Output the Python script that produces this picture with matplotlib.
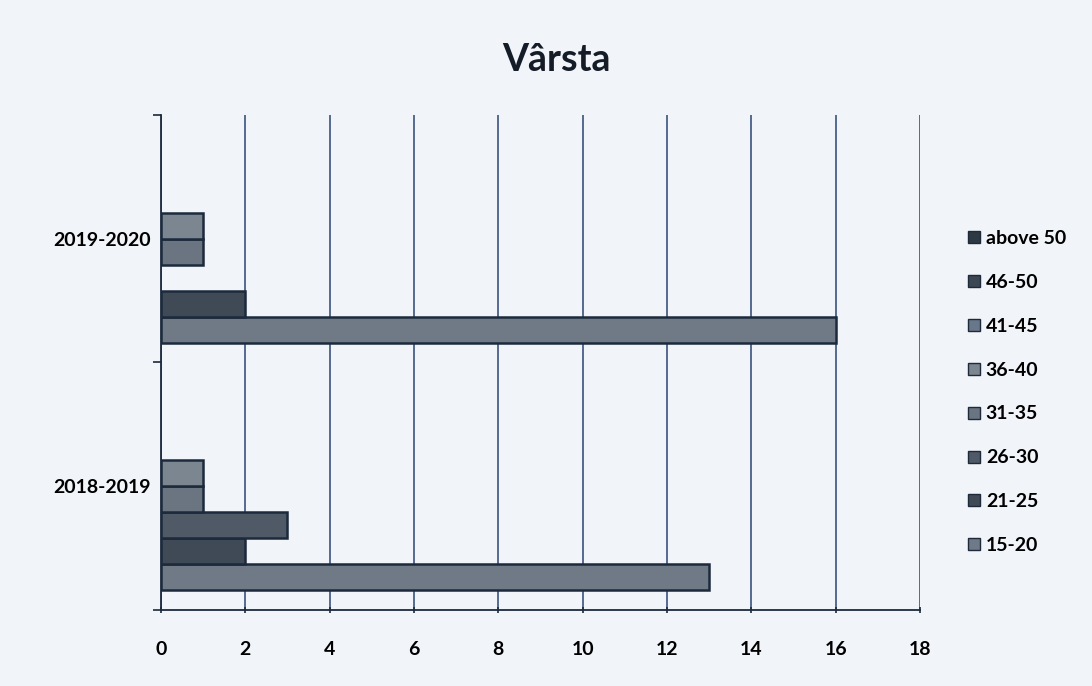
import numpy as np
import matplotlib.pyplot as plt
from matplotlib.lines import Line2D

# categories (bottom to top) and series values
categories = ['2018-2019', '2019-2020']
series = ['15-20', '21-25', '26-30', '31-35', '36-40', '41-45', '46-50', 'above 50']
values = {
    '15-20': [13, 16],
    '21-25': [2, 2],
    '26-30': [3, 0],
    '31-35': [1, 1],
    '36-40': [1, 1],
    '41-45': [0, 0],
    '46-50': [0, 0],
    'above 50': [0, 0],
}
colors = {
    '15-20': '#6f7a86',
    '21-25': '#3f4a56',
    '26-30': '#4f5a66',
    '31-35': '#6a7581',
    '36-40': '#7c8691',
    '41-45': '#68788a',
    '46-50': '#3c4753',
    'above 50': '#2e3843',
}

plt.rcParams['font.family'] = ['Lato', 'DejaVu Sans']
plt.rcParams['font.weight'] = 'bold'

bg = '#f1f4f8'
edge = '#1c2a3c'

fig = plt.figure(figsize=(10.92, 6.86), dpi=100, facecolor=bg)
ax = fig.add_axes([0.1474, 0.1108, 0.6951, 0.7216], facecolor=bg)

y = np.arange(len(categories))
h = 1 / 9.5
for i, s in enumerate(series):
    # zero-length bars get no outline, as in the original
    lw = [1.8 if v else 0 for v in values[s]]
    ax.barh(y + (i - 3.5) * h, values[s], height=h, color=colors[s],
            edgecolor=edge, linewidth=lw, zorder=3)

ax.set_xlim(0, 18)
ax.set_ylim(-0.5, 1.5)
ax.set_xticks(np.arange(0, 19, 2))
ax.set_yticks(y)
ax.set_yticklabels(categories)
ax.set_yticks([-0.5, 0.5, 1.5], minor=True)
ax.tick_params(axis='y', which='major', length=0, pad=7, labelsize=14)
ax.tick_params(axis='y', which='minor', length=6, color=edge, width=1.2)
ax.tick_params(axis='x', length=5, direction='inout', color=edge, width=1.2,
               pad=20, labelsize=14)
ax.grid(axis='x', color='#2b4474', linewidth=1.1, zorder=0)
for side in ['top', 'right']:
    ax.spines[side].set_visible(False)
for side in ['left', 'bottom']:
    ax.spines[side].set_color(edge)
    ax.spines[side].set_linewidth(1.3)

fig.text(0.51, 0.912, 'Vârsta', ha='center', va='center', fontsize=27,
         fontweight='bold', color='#141c28')

handles = [Line2D([], [], marker='s', linestyle='none', markersize=9,
                  markerfacecolor=colors[s], markeredgecolor=edge)
           for s in reversed(series)]
fig.legend(handles, list(reversed(series)), loc='upper left',
           bbox_to_anchor=(0.868, 0.69), frameon=False, fontsize=14,
           labelspacing=1.38, handletextpad=0.15, handlelength=0.9)

fig.savefig('out.png', dpi=100, facecolor=bg)
